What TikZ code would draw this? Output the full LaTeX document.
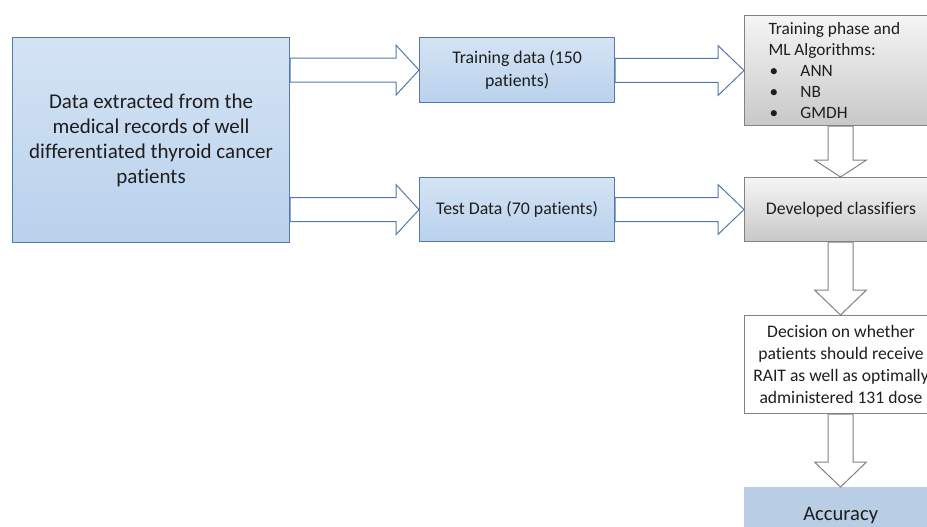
\documentclass[tikz,border=0pt]{standalone}
\usepackage{fontspec}
\setmainfont[Ligatures=NoCommon]{Carlito}
\usetikzlibrary{calc}

\definecolor{blueedge}{RGB}{84,122,172}
\definecolor{bluetop}{RGB}{226,236,248}
\definecolor{bluebot}{RGB}{178,205,234}
\definecolor{bluelow}{RGB}{205,223,243}
\definecolor{greyedge}{RGB}{130,130,130}
\definecolor{greytop}{RGB}{245,245,245}
\definecolor{greybot}{RGB}{200,200,200}
\definecolor{accfill}{RGB}{185,205,229}
\definecolor{txt}{RGB}{30,30,30}

% blue fill: light at the top, deeper near the bottom, a lighter band at the foot
\pgfdeclareverticalshading{bluegrad}{100bp}{%
  color(0bp)=(bluelow); color(12bp)=(bluebot); color(100bp)=(bluetop)}

\tikzset{
  bluebox/.style={draw=blueedge, line width=1.2pt, shading=bluegrad,
    anchor=north west, inner sep=0pt, align=center, text=txt},
  greybox/.style={draw=greyedge, line width=1pt, top color=greytop, bottom color=greybot,
    anchor=north west, inner sep=0pt, text=txt},
  plainbox/.style={draw=greyedge, line width=1pt, fill=white,
    anchor=north west, inner sep=0pt, align=center, text=txt},
  accbox/.style={fill=accfill, anchor=north west, inner sep=0pt, align=center, text=txt},
  harrow/.style={draw=blueedge, line width=1pt, fill=white, line join=miter},
  varrow/.style={draw=greyedge, line width=1pt, fill=white, line join=miter},
}

\begin{document}
\begin{tikzpicture}[x=1pt,y=-1pt]
\useasboundingbox (0,0) rectangle (927,527);
\clip (0,0) rectangle (927,527);

% boxes
\node[bluebox, minimum width=277, minimum height=205,
  font=\fontsize{21}{25}\selectfont] (src) at (12,37)
  {Data extracted from the\\medical records of well\\differentiated thyroid cancer\\patients};
\node[bluebox, minimum width=195, minimum height=65,
  font=\fontsize{17.8}{23}\selectfont] (train) at (419,37) {Training data (150\\patients)};
\node[bluebox, minimum width=195, minimum height=64,
  font=\fontsize{17.8}{23}\selectfont] (test) at (419,177) {Test Data (70 patients)};

\node[greybox, minimum width=193, minimum height=110, text width=145, align=flush left,
  inner xsep=24pt, font=\fontsize{17.3}{21}\selectfont] (phase) at (744,15)
  {Training phase and\\ML Algorithms:\\
   \makebox[32pt][l]{\hspace{1pt}•}ANN\\
   \makebox[32pt][l]{\hspace{1pt}•}NB\\
   \makebox[32pt][l]{\hspace{1pt}•}GMDH};
\node[greybox, minimum width=193, minimum height=64, align=center,
  font=\fontsize{17.7}{23}\selectfont] (dev) at (744,177) {Developed classifiers};
\node[plainbox, minimum width=193, minimum height=98,
  font=\fontsize{17.6}{22}\selectfont] (dec) at (744,315)
  {Decision on whether\\patients should receive\\RAIT as well as optimally\\administered 131 dose};
\node[accbox, minimum width=193, minimum height=56,
  font=\fontsize{20.6}{24}\selectfont] (acc) at (744,487) {Accuracy};

% horizontal block arrows (shaft half-height 12, head half-height 25)
\foreach \s/\d/\h in {src/train/23, src/test/23, train/phase/26, test/dev/26}{
  \coordinate (s) at (\s.east |- \d.west);
  \draw[harrow] ([yshift=12]s) -- ([xshift=-\h,yshift=12]\d.west)
    -- ([xshift=-\h,yshift=25]\d.west) -- (\d.west)
    -- ([xshift=-\h,yshift=-25]\d.west) -- ([xshift=-\h,yshift=-12]\d.west)
    -- ([yshift=-12]s) -- cycle;
}

% vertical block arrows (shaft half-width 12.5, head half-width 26)
\foreach \s/\d/\h in {phase/dev/17, dev/dec/25, dec/acc/25}{
  \coordinate (t) at (\d.north -| 840.5,0);
  \coordinate (b) at (\s.south -| 840.5,0);
  \draw[varrow] ([xshift=-12.5]b) -- ([xshift=-12.5,yshift=\h]t)
    -- ([xshift=-26,yshift=\h]t) -- (t)
    -- ([xshift=26,yshift=\h]t) -- ([xshift=12.5,yshift=\h]t)
    -- ([xshift=12.5]b) -- cycle;
}
\end{tikzpicture}
\end{document}
